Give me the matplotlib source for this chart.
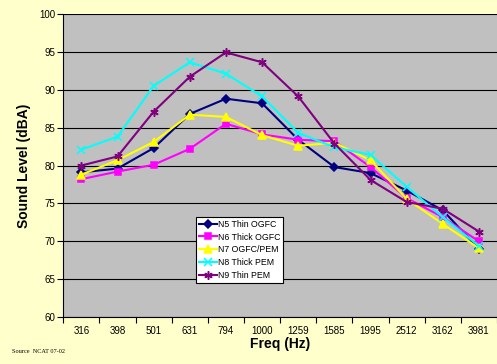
import numpy as np
import matplotlib
matplotlib.use("Agg")
import matplotlib.pyplot as plt

# data
freqs = ['316', '398', '501', '631', '794', '1000', '1259', '1585',
         '1995', '2512', '3162', '3981']
n5_thin_ogfc = [79.1, 79.6, 82.3, 86.8, 88.8, 88.2, 83.4, 79.8, 79.0, 76.7, 74.1, 69.0]
n6_thick_ogfc = [78.2, 79.2, 80.1, 82.2, 85.5, 84.1, 83.4, 83.2, 79.8, 75.7, 73.2, 70.0]
n7_ogfc_pem = [78.8, 80.7, 83.1, 86.7, 86.4, 84.0, 82.6, 83.0, 80.7, 75.6, 72.3, 69.1]
n8_thick_pem = [82.1, 83.8, 90.5, 93.6, 92.1, 89.1, 84.3, 82.4, 81.4, 77.2, 73.2, 69.4]
n9_thin_pem = [80.0, 81.2, 87.1, 91.7, 94.9, 93.6, 89.1, 82.9, 78.1, 75.2, 74.3, 71.3]
yticks = [60, 65, 70, 75, 80, 85, 90, 95, 100]

plt.rcParams['font.family'] = ['Liberation Sans', 'DejaVu Sans']

fig = plt.figure(figsize=(4.97, 3.64), dpi=100)
fig.patch.set_facecolor('#FFFFCC')
ax = fig.add_axes([0.1274, 0.1283, 0.8726, 0.834])
ax.set_facecolor('#C0C0C0')

x = np.arange(len(freqs))
series = [
    ('N5 Thin OGFC', n5_thin_ogfc, '#000080', 'D', 4),
    ('N6 Thick OGFC', n6_thick_ogfc, '#FF00FF', 's', 5),
    ('N7 OGFC/PEM', n7_ogfc_pem, '#FFFF00', '^', 5.5),
    ('N8 Thick PEM', n8_thick_pem, '#00FFFF', 'x', 5.5),
    ('N9 Thin PEM', n9_thin_pem, '#800080', (6, 2, 0), 6),
]
for name, vals, col, mk, ms in series:
    ax.plot(x, vals, color=col, lw=1.5, marker=mk, ms=ms,
            mec=col, mfc=col, mew=1.1, label=name)

ax.set_xlim(-0.5, len(freqs) - 0.5)
ax.set_ylim(60, 100)
ax.set_yticks(yticks)
ax.set_yticklabels([str(v) for v in yticks], fontsize=7)
ax.set_xticks(x)
ax.set_xticklabels(freqs, fontsize=7)
ax.set_xticks(np.arange(-0.5, len(freqs), 1), minor=True)
ax.tick_params(axis='x', which='major', length=0, pad=6)
ax.tick_params(axis='x', which='minor', length=4, direction='out', width=0.8)
ax.tick_params(axis='y', length=4, direction='out', width=0.8, pad=2)

ax.grid(axis='y', color='black', lw=0.8)
ax.set_axisbelow(True)
ax.spines['right'].set_visible(False)
ax.spines['top'].set_visible(False)
for s in ('left', 'bottom'):
    ax.spines[s].set_linewidth(0.8)

ax.set_ylabel('Sound Level (dBA)', fontsize=10, fontweight='bold', labelpad=6)
ax.set_xlabel('Freq (Hz)', fontsize=10, fontweight='bold', labelpad=1)

leg = ax.legend(loc='lower left', bbox_to_anchor=(0.307, 0.113), fontsize=6.3,
                frameon=True, fancybox=False, borderpad=0.3, labelspacing=0.45,
                handlelength=2.0, handletextpad=0.2, borderaxespad=0)
leg.get_frame().set_edgecolor('black')
leg.get_frame().set_linewidth(0.8)
leg.get_frame().set_facecolor('white')
leg.get_frame().set_alpha(1)

fig.text(0.024, 0.03, 'Source  NCAT 07-02', fontsize=4.5,
         family=['Liberation Serif', 'DejaVu Serif'])

fig.savefig('out.png', dpi=100, facecolor=fig.get_facecolor())
